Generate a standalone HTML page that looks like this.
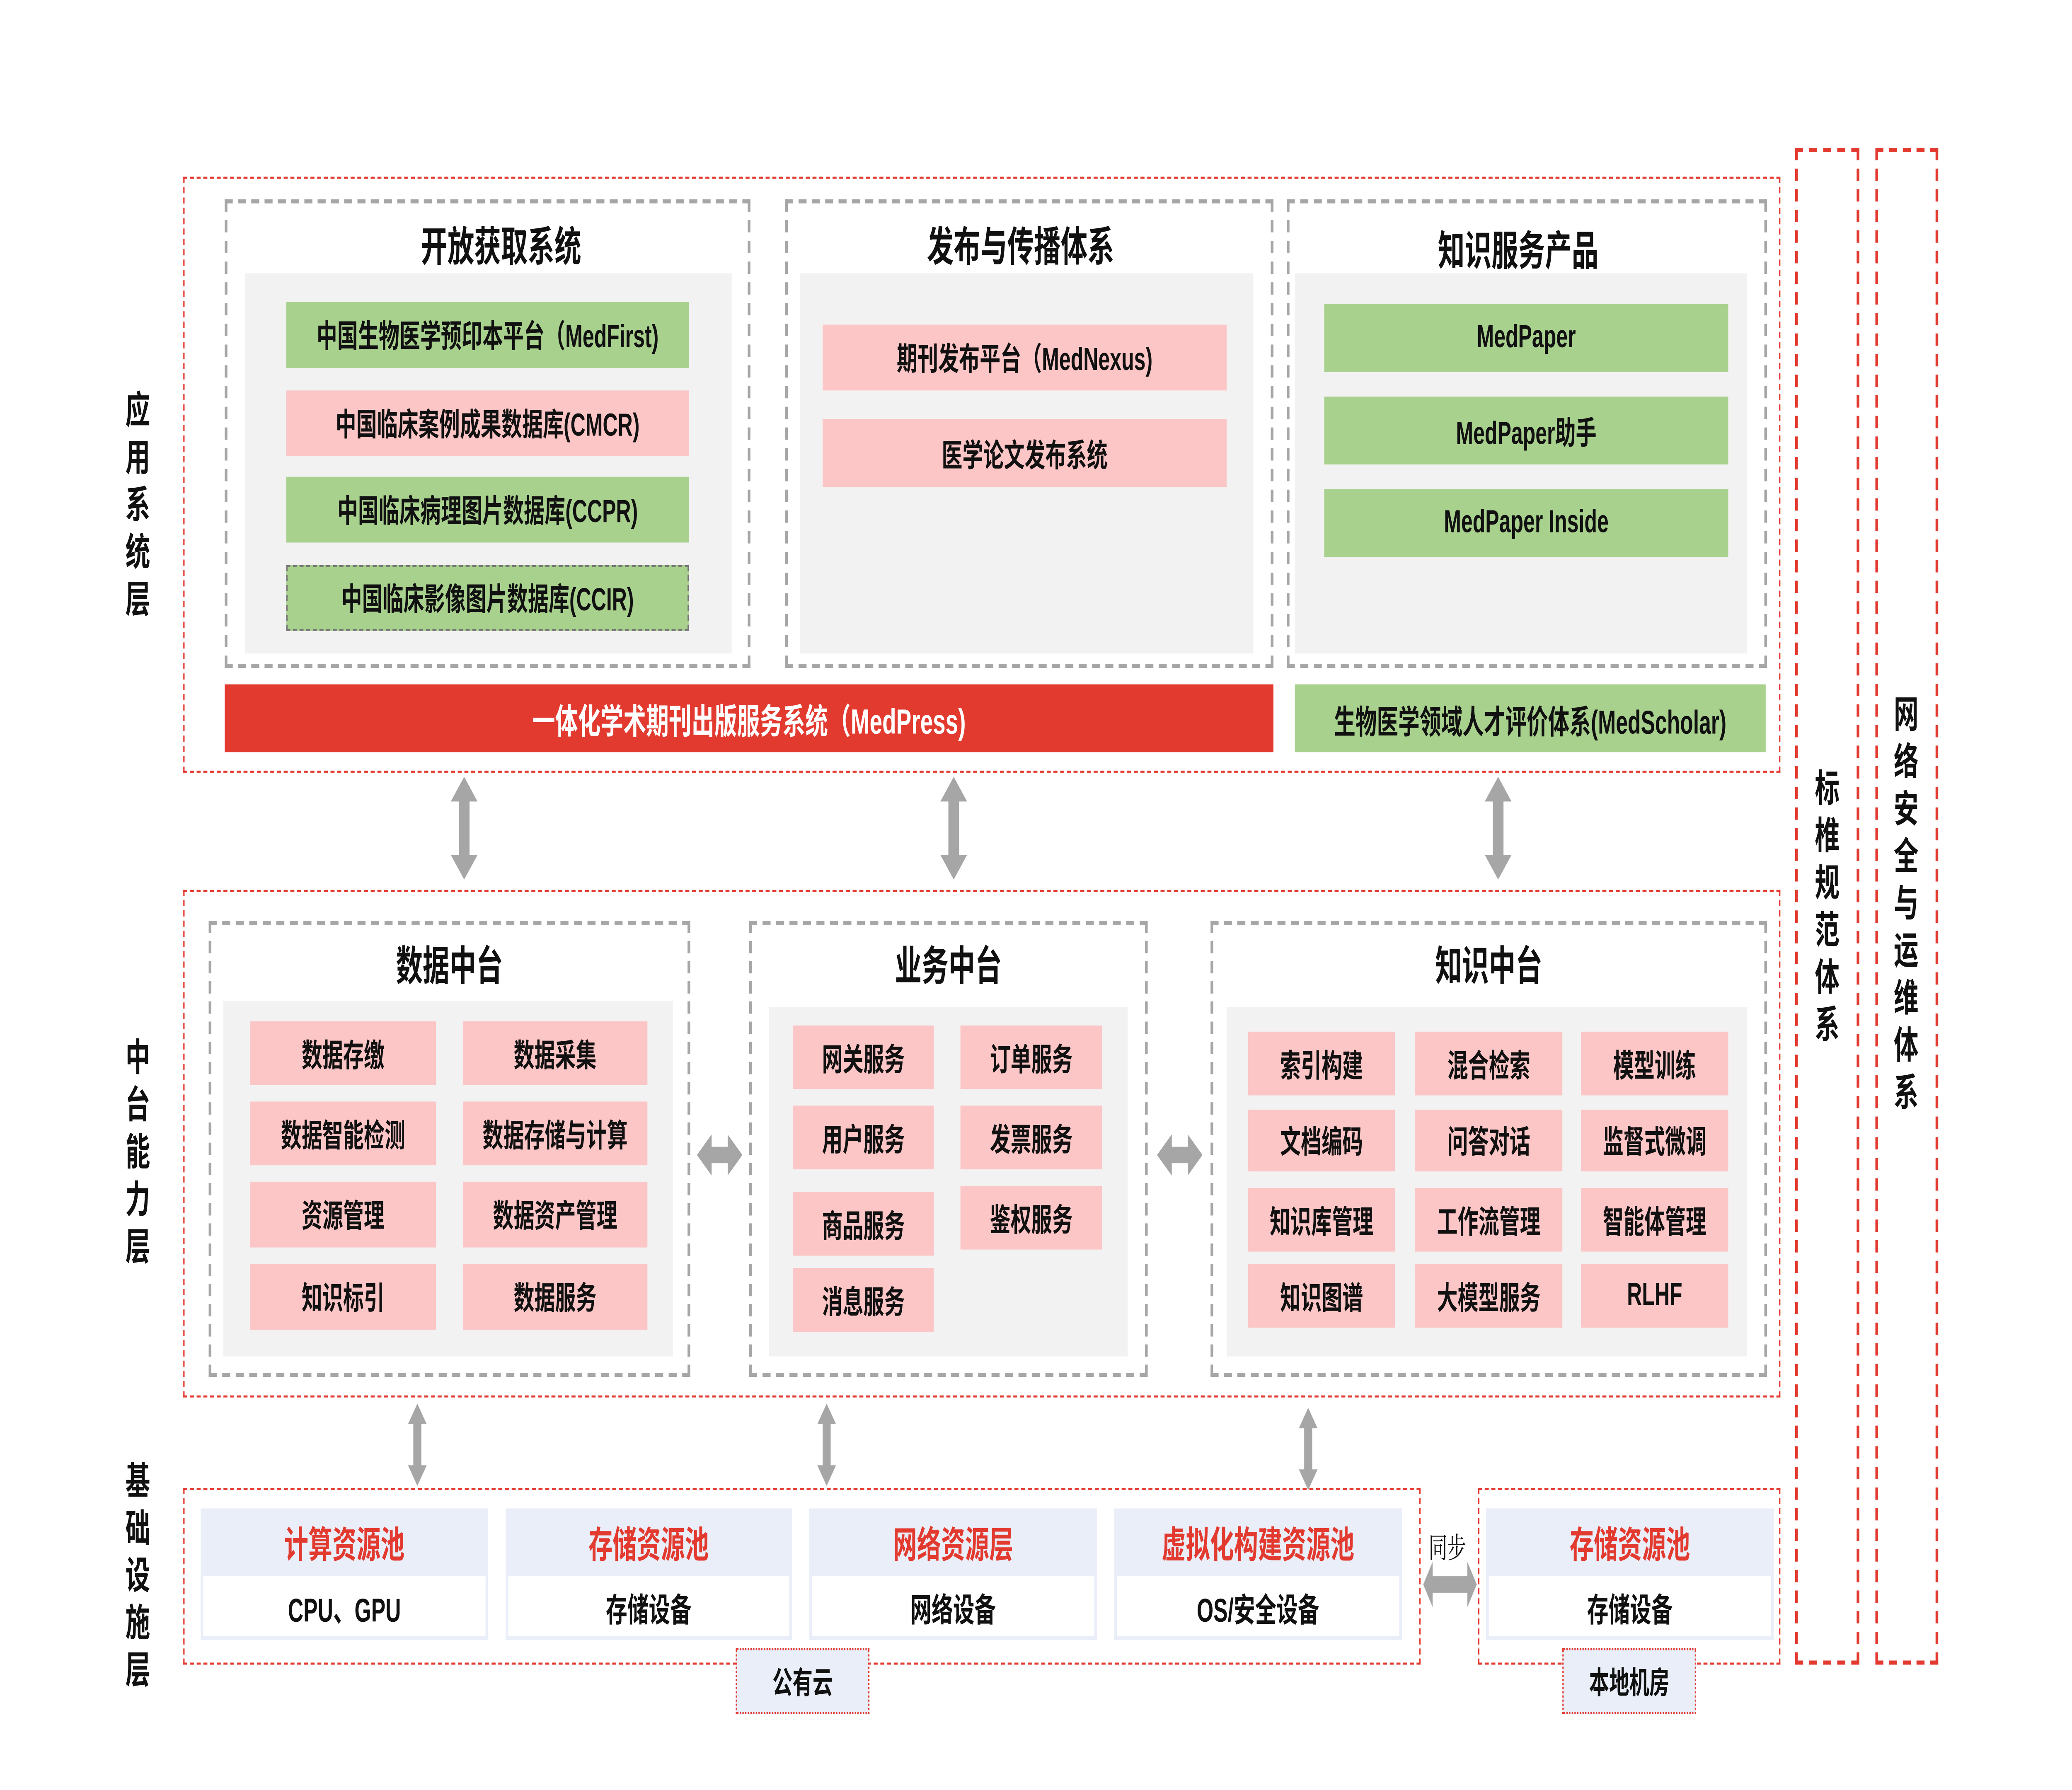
<!DOCTYPE html>
<html><head><meta charset="utf-8"><style>
html,body{margin:0;padding:0;background:#fff;width:100%;height:100%;overflow:hidden}
#wrap{position:fixed;left:0;top:0;width:100vw;height:100vh;display:block}
#s{position:relative;width:1549px;height:871px;font-family:"Liberation Sans","Noto Sans CJK SC",sans-serif;font-weight:bold;color:#111;background:#fff}
.a{position:absolute;box-sizing:border-box}
.rd{border:1.3px dashed #e33a30}
.gd{border:2px dashed #a6a6a6}
.bg{background:#f2f2f2}
.it{display:flex;align-items:center;justify-content:center;font-size:15.5px;white-space:nowrap}
.g{background:#a9d18e}.p{background:#fcc5c6}
.t{font-size:20px;text-align:center}
.lbl{position:absolute;width:24px;font-size:18.5px;line-height:23px;text-align:center}
.vl{position:absolute;font-size:18.5px;line-height:23px;text-align:center;width:24px}
.hd{background:#e9eef8;color:#e33a30;font-size:18px}
.bd{background:#fff;font-size:16px;border:2px solid #e9eef8;border-top:none}
</style></head><body>
<svg id="wrap" viewBox="0 0 1549 871" preserveAspectRatio="none" xmlns="http://www.w3.org/2000/svg">
<foreignObject x="0" y="0" width="1549" height="871">
<div xmlns="http://www.w3.org/1999/xhtml" id="s">

<div class="lbl" style="left:91px;top:188px">应<br/>用<br/>系<br/>统<br/>层</div>
<div class="lbl" style="left:91px;top:503px">中<br/>台<br/>能<br/>力<br/>层</div>
<div class="lbl" style="left:91px;top:709px">基<br/>础<br/>设<br/>施<br/>层</div>

<div class="a rd" style="left:137px;top:86px;width:1194px;height:290px"></div>
<div class="a gd" style="left:168px;top:97px;width:393px;height:228px"></div>
<div class="a bg" style="left:183px;top:133px;width:364px;height:185px"></div>
<div class="a t" style="left:168px;top:104px;width:413px">开放获取系统</div>
<div class="a it g" style="left:214px;top:147px;width:301px;height:32px">中国生物医学预印本平台（MedFirst)</div>
<div class="a it p" style="left:214px;top:190px;width:301px;height:32px">中国临床案例成果数据库(CMCR)</div>
<div class="a it g" style="left:214px;top:232px;width:301px;height:32px">中国临床病理图片数据库(CCPR)</div>
<div class="a it g" style="left:214px;top:275px;width:301px;height:32px;border:1.3px dashed #777">中国临床影像图片数据库(CCIR)</div>

<div class="a gd" style="left:587px;top:97px;width:365px;height:228px"></div>
<div class="a bg" style="left:598px;top:133px;width:339px;height:185px"></div>
<div class="a t" style="left:578px;top:104px;width:370px">发布与传播体系</div>
<div class="a it p" style="left:615px;top:158px;width:302px;height:32px">期刊发布平台（MedNexus)</div>
<div class="a it p" style="left:615px;top:204px;width:302px;height:33px">医学论文发布系统</div>

<div class="a gd" style="left:962px;top:97px;width:359px;height:228px"></div>
<div class="a bg" style="left:968px;top:133px;width:338px;height:185px"></div>
<div class="a t" style="left:955px;top:106px;width:360px">知识服务产品</div>
<div class="a it g" style="left:990px;top:148px;width:302px;height:33px">MedPaper</div>
<div class="a it g" style="left:990px;top:193px;width:302px;height:33px">MedPaper助手</div>
<div class="a it g" style="left:990px;top:238px;width:302px;height:33px">MedPaper Inside</div>

<div class="a it" style="left:168px;top:333px;width:784px;height:33px;background:#e33a30;color:#fff;font-size:17px">一体化学术期刊出版服务系统（MedPress)</div>
<div class="a it g" style="left:968px;top:333px;width:352px;height:33px;font-size:16px">生物医学领域人才评价体系(MedScholar)</div>

<div class="a rd" style="left:137px;top:433px;width:1194px;height:247px"></div>
<div class="a gd" style="left:156px;top:448px;width:360px;height:222px"></div>
<div class="a bg" style="left:167px;top:487px;width:336px;height:173px"></div>
<div class="a t" style="left:156px;top:454px;width:360px">数据中台</div>
<div class="a it p" style="left:187px;top:497px;width:139px;height:31px">数据存缴</div>
<div class="a it p" style="left:346px;top:497px;width:138px;height:31px">数据采集</div>
<div class="a it p" style="left:187px;top:536px;width:139px;height:31px">数据智能检测</div>
<div class="a it p" style="left:346px;top:536px;width:138px;height:31px">数据存储与计算</div>
<div class="a it p" style="left:187px;top:575px;width:139px;height:32px">资源管理</div>
<div class="a it p" style="left:346px;top:575px;width:138px;height:32px">数据资产管理</div>
<div class="a it p" style="left:187px;top:615px;width:139px;height:32px">知识标引</div>
<div class="a it p" style="left:346px;top:615px;width:138px;height:32px">数据服务</div>

<div class="a gd" style="left:560px;top:448px;width:298px;height:222px"></div>
<div class="a bg" style="left:575px;top:490px;width:268px;height:170px"></div>
<div class="a t" style="left:560px;top:454px;width:298px">业务中台</div>
<div class="a it p" style="left:593px;top:499px;width:105px;height:31px">网关服务</div>
<div class="a it p" style="left:718px;top:499px;width:106px;height:31px">订单服务</div>
<div class="a it p" style="left:593px;top:538px;width:105px;height:31px">用户服务</div>
<div class="a it p" style="left:718px;top:538px;width:106px;height:31px">发票服务</div>
<div class="a it p" style="left:593px;top:580px;width:105px;height:31px">商品服务</div>
<div class="a it p" style="left:718px;top:577px;width:106px;height:31px">鉴权服务</div>
<div class="a it p" style="left:593px;top:617px;width:105px;height:31px">消息服务</div>

<div class="a gd" style="left:905px;top:448px;width:416px;height:222px"></div>
<div class="a bg" style="left:917px;top:490px;width:389px;height:170px"></div>
<div class="a t" style="left:905px;top:454px;width:416px">知识中台</div>
<div class="a it p" style="left:933px;top:502px;width:110px;height:31px">索引构建</div>
<div class="a it p" style="left:1058px;top:502px;width:110px;height:31px">混合检索</div>
<div class="a it p" style="left:1182px;top:502px;width:110px;height:31px">模型训练</div>
<div class="a it p" style="left:933px;top:540px;width:110px;height:30px">文档编码</div>
<div class="a it p" style="left:1058px;top:540px;width:110px;height:30px">问答对话</div>
<div class="a it p" style="left:1182px;top:540px;width:110px;height:30px">监督式微调</div>
<div class="a it p" style="left:933px;top:578px;width:110px;height:31px">知识库管理</div>
<div class="a it p" style="left:1058px;top:578px;width:110px;height:31px">工作流管理</div>
<div class="a it p" style="left:1182px;top:578px;width:110px;height:31px">智能体管理</div>
<div class="a it p" style="left:933px;top:615px;width:110px;height:31px">知识图谱</div>
<div class="a it p" style="left:1058px;top:615px;width:110px;height:31px">大模型服务</div>
<div class="a it p" style="left:1182px;top:615px;width:110px;height:31px">RLHF</div>

<div class="a rd" style="left:137px;top:724px;width:925px;height:86px"></div>
<div class="a it hd" style="left:150px;top:734px;width:215px;height:33px">计算资源池</div>
<div class="a it bd" style="left:150px;top:767px;width:215px;height:31px">CPU、GPU</div>
<div class="a it hd" style="left:378px;top:734px;width:214px;height:33px">存储资源池</div>
<div class="a it bd" style="left:378px;top:767px;width:214px;height:31px">存储设备</div>
<div class="a it hd" style="left:605px;top:734px;width:215px;height:33px">网络资源层</div>
<div class="a it bd" style="left:605px;top:767px;width:215px;height:31px">网络设备</div>
<div class="a it hd" style="left:833px;top:734px;width:215px;height:33px">虚拟化构建资源池</div>
<div class="a it bd" style="left:833px;top:767px;width:215px;height:31px">OS/安全设备</div>
<div class="a it" style="left:550px;top:802px;width:100px;height:32px;background:#e9eef8;border:1.5px dotted #e33a30;font-size:15px">公有云</div>

<div class="a rd" style="left:1105px;top:724px;width:226px;height:86px"></div>
<div class="a it hd" style="left:1111px;top:734px;width:215px;height:33px">存储资源池</div>
<div class="a it bd" style="left:1111px;top:767px;width:215px;height:31px">存储设备</div>
<div class="a it" style="left:1168px;top:802px;width:100px;height:32px;background:#e9eef8;border:1.5px dotted #e33a30;font-size:15px">本地机房</div>
<div class="a" style="left:1068px;top:743px;font-size:14px;font-weight:normal;font-family:'Noto Serif CJK SC',serif">同步</div>

<div class="a" style="left:1342px;top:72px;width:48px;height:738px;border:2px dashed #e33a30"></div>
<div class="vl" style="left:1354px;top:372px">标<br/>椎<br/>规<br/>范<br/>体<br/>系</div>
<div class="a" style="left:1402px;top:72px;width:47px;height:738px;border:2px dashed #e33a30"></div>
<div class="vl" style="left:1413px;top:336px">网<br/>络<br/>安<br/>全<br/>与<br/>运<br/>维<br/>体<br/>系</div>

</div>
</foreignObject>
<g fill="#a6a6a6">
<polygon transform="translate(347,403)" points="0,-25 10,-13 4,-13 4,13 10,13 0,25 -10,13 -4,13 -4,-13 -10,-13"/>
<polygon transform="translate(713,403)" points="0,-25 10,-13 4,-13 4,13 10,13 0,25 -10,13 -4,13 -4,-13 -10,-13"/>
<polygon transform="translate(1120,403)" points="0,-25 10,-13 4,-13 4,13 10,13 0,25 -10,13 -4,13 -4,-13 -10,-13"/>
<polygon transform="translate(538,562)" points="-17,0 -6,-10 -6,-4 6,-4 6,-10 17,0 6,10 6,4 -6,4 -6,10"/>
<polygon transform="translate(882,562)" points="-17,0 -6,-10 -6,-4 6,-4 6,-10 17,0 6,10 6,4 -6,4 -6,10"/>
<polygon transform="translate(312,703)" points="0,-20 7,-10 3,-10 3,10 7,10 0,20 -7,10 -3,10 -3,-10 -7,-10"/>
<polygon transform="translate(618,703)" points="0,-20 7,-10 3,-10 3,10 7,10 0,20 -7,10 -3,10 -3,-10 -7,-10"/>
<polygon transform="translate(978,705)" points="0,-20 7,-10 3,-10 3,10 7,10 0,20 -7,10 -3,10 -3,-10 -7,-10"/>
<polygon points="1064,771 1071,760 1071,767 1097,767 1097,760 1104,771 1097,782 1097,775 1071,775 1071,782"/>
</g>
</svg>
</body></html>
